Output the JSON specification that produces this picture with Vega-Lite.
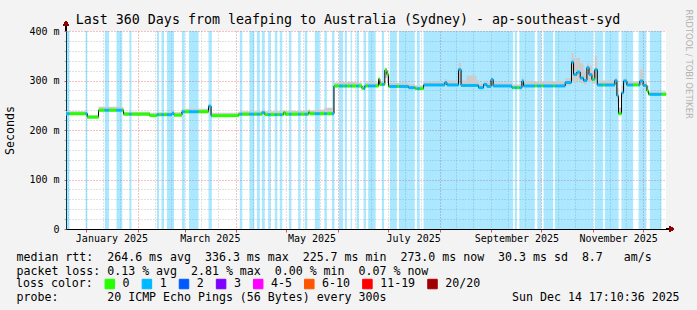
{
  "$schema": "https://vega.github.io/schema/vega-lite/v6.json",
  "width": 600,
  "height": 198,
  "autosize": {"type": "none"},
  "padding": {"left": 66, "top": 31, "right": 31, "bottom": 81},
  "background": "#f3f3f3",
  "config": {"view": {"fill": "#ffffff", "stroke": null}, "font": "DejaVu Sans Mono"},
  "resolve": {"axis": {"x": "independent", "y": "independent"}},
  "data": {"values": [
    {"t":"2024-12-19T17:10:36","m":233,"lo":230,"hi":238,"l":"1"},
    {"t":"2024-12-21T18:00","m":233,"lo":230,"hi":238,"l":"0"},
    {"t":"2024-12-31T12:00","m":233,"lo":230,"hi":238,"l":"1"},
    {"t":"2025-01-01T12:00","m":226,"lo":223,"hi":230,"l":"0"},
    {"t":"2025-01-08T06:00","m":240,"lo":237,"hi":247,"l":"0"},
    {"t":"2025-01-12T00:00","m":240,"lo":237,"hi":247,"l":"1"},
    {"t":"2025-01-14T12:00","m":240,"lo":237,"hi":247,"l":"0"},
    {"t":"2025-01-19T00:00","m":240,"lo":237,"hi":247,"l":"1"},
    {"t":"2025-01-22T12:00","m":240,"lo":237,"hi":246,"l":"0"},
    {"t":"2025-01-23T06:00","m":232,"lo":229,"hi":237,"l":"0"},
    {"t":"2025-01-26T18:00","m":232,"lo":229,"hi":237,"l":"1"},
    {"t":"2025-01-28T00:00","m":232,"lo":229,"hi":237,"l":"0"},
    {"t":"2025-02-08T00:00","m":229,"lo":227,"hi":235,"l":"0"},
    {"t":"2025-02-12T06:00","m":231,"lo":228,"hi":236,"l":"1"},
    {"t":"2025-02-13T12:00","m":231,"lo":228,"hi":236,"l":"0"},
    {"t":"2025-02-15T00:00","m":231,"lo":228,"hi":236,"l":"1"},
    {"t":"2025-02-16T12:00","m":231,"lo":228,"hi":236,"l":"0"},
    {"t":"2025-02-18T06:00","m":231,"lo":228,"hi":237,"l":"1"},
    {"t":"2025-02-21T06:00","m":234,"lo":230,"hi":240,"l":"1"},
    {"t":"2025-02-22T12:00","m":230,"lo":228,"hi":236,"l":"0"},
    {"t":"2025-02-27T06:00","m":237,"lo":234,"hi":243,"l":"1"},
    {"t":"2025-03-01T00:00","m":237,"lo":234,"hi":243,"l":"0"},
    {"t":"2025-03-03T12:00","m":237,"lo":234,"hi":243,"l":"1"},
    {"t":"2025-03-09T06:00","m":237,"lo":234,"hi":243,"l":"0"},
    {"t":"2025-03-15T06:00","m":248,"lo":240,"hi":253,"l":"1"},
    {"t":"2025-03-16T18:00","m":229,"lo":227,"hi":235,"l":"1"},
    {"t":"2025-03-17T06:00","m":229,"lo":227,"hi":235,"l":"0"},
    {"t":"2025-04-02T06:00","m":232,"lo":229,"hi":237,"l":"0"},
    {"t":"2025-04-03T00:00","m":232,"lo":229,"hi":238,"l":"1"},
    {"t":"2025-04-04T12:00","m":232,"lo":229,"hi":238,"l":"0"},
    {"t":"2025-04-08T18:00","m":232,"lo":229,"hi":238,"l":"1"},
    {"t":"2025-04-11T18:00","m":232,"lo":229,"hi":238,"l":"0"},
    {"t":"2025-04-13T06:00","m":232,"lo":229,"hi":238,"l":"1"},
    {"t":"2025-04-15T00:00","m":232,"lo":229,"hi":238,"l":"0"},
    {"t":"2025-04-16T06:00","m":235,"lo":231,"hi":241,"l":"1"},
    {"t":"2025-04-18T00:00","m":231,"lo":229,"hi":238,"l":"0"},
    {"t":"2025-04-20T00:00","m":231,"lo":229,"hi":238,"l":"1"},
    {"t":"2025-04-21T12:00","m":231,"lo":229,"hi":238,"l":"0"},
    {"t":"2025-04-24T00:00","m":231,"lo":229,"hi":238,"l":"1"},
    {"t":"2025-04-25T12:00","m":231,"lo":229,"hi":238,"l":"0"},
    {"t":"2025-04-27T00:00","m":231,"lo":229,"hi":238,"l":"1"},
    {"t":"2025-04-28T12:00","m":231,"lo":229,"hi":238,"l":"0"},
    {"t":"2025-04-29T06:00","m":235,"lo":231,"hi":240,"l":"0"},
    {"t":"2025-04-30T06:00","m":232,"lo":229,"hi":239,"l":"0"},
    {"t":"2025-05-02T12:00","m":232,"lo":229,"hi":239,"l":"1"},
    {"t":"2025-05-04T00:00","m":232,"lo":229,"hi":239,"l":"0"},
    {"t":"2025-05-08T00:00","m":232,"lo":229,"hi":239,"l":"1"},
    {"t":"2025-05-09T12:00","m":232,"lo":229,"hi":239,"l":"0"},
    {"t":"2025-05-12T00:00","m":232,"lo":229,"hi":239,"l":"1"},
    {"t":"2025-05-13T12:00","m":232,"lo":229,"hi":240,"l":"0"},
    {"t":"2025-05-14T06:00","m":236,"lo":232,"hi":242,"l":"0"},
    {"t":"2025-05-15T00:00","m":233,"lo":230,"hi":240,"l":"0"},
    {"t":"2025-05-18T00:00","m":233,"lo":230,"hi":241,"l":"1"},
    {"t":"2025-05-21T00:00","m":233,"lo":230,"hi":241,"l":"0"},
    {"t":"2025-05-23T18:00","m":233,"lo":230,"hi":244,"l":"1"},
    {"t":"2025-05-25T06:00","m":233,"lo":230,"hi":245,"l":"0"},
    {"t":"2025-05-28T06:00","m":233,"lo":230,"hi":245,"l":"1"},
    {"t":"2025-05-29T12:00","m":289,"lo":286,"hi":296,"l":"1"},
    {"t":"2025-05-29T18:00","m":289,"lo":286,"hi":296,"l":"0"},
    {"t":"2025-06-01T12:00","m":289,"lo":286,"hi":297,"l":"1"},
    {"t":"2025-06-04T00:00","m":289,"lo":286,"hi":297,"l":"0"},
    {"t":"2025-06-05T00:00","m":289,"lo":286,"hi":297,"l":"1"},
    {"t":"2025-06-06T06:00","m":289,"lo":286,"hi":297,"l":"0"},
    {"t":"2025-06-08T12:00","m":289,"lo":286,"hi":297,"l":"1"},
    {"t":"2025-06-09T06:00","m":289,"lo":286,"hi":297,"l":"0"},
    {"t":"2025-06-12T00:00","m":289,"lo":286,"hi":296,"l":"1"},
    {"t":"2025-06-13T12:00","m":289,"lo":286,"hi":296,"l":"0"},
    {"t":"2025-06-15T06:00","m":284,"lo":282,"hi":290,"l":"0"},
    {"t":"2025-06-16T06:00","m":284,"lo":282,"hi":290,"l":"1"},
    {"t":"2025-06-17T00:00","m":289,"lo":287,"hi":296,"l":"1"},
    {"t":"2025-06-17T18:00","m":289,"lo":287,"hi":296,"l":"0"},
    {"t":"2025-06-19T00:00","m":289,"lo":287,"hi":296,"l":"1"},
    {"t":"2025-06-23T12:00","m":289,"lo":287,"hi":296,"l":"0"},
    {"t":"2025-06-25T06:00","m":303,"lo":290,"hi":306,"l":"0"},
    {"t":"2025-06-26T00:00","m":292,"lo":289,"hi":298,"l":"0"},
    {"t":"2025-06-27T06:00","m":292,"lo":289,"hi":298,"l":"1"},
    {"t":"2025-06-28T12:00","m":292,"lo":289,"hi":298,"l":"0"},
    {"t":"2025-06-29T00:00","m":321,"lo":305,"hi":326,"l":"0"},
    {"t":"2025-06-30T06:00","m":312,"lo":295,"hi":318,"l":"0"},
    {"t":"2025-07-01T06:00","m":288,"lo":286,"hi":294,"l":"0"},
    {"t":"2025-07-02T00:00","m":288,"lo":286,"hi":295,"l":"1"},
    {"t":"2025-07-06T06:00","m":288,"lo":286,"hi":295,"l":"0"},
    {"t":"2025-07-07T12:00","m":288,"lo":286,"hi":296,"l":"1"},
    {"t":"2025-07-13T06:00","m":285.5,"lo":284,"hi":293,"l":"1"},
    {"t":"2025-07-17T00:00","m":285.5,"lo":284,"hi":292,"l":"0"},
    {"t":"2025-07-17T06:00","m":283.5,"lo":282,"hi":290,"l":"0"},
    {"t":"2025-07-18T06:00","m":283.5,"lo":282,"hi":290,"l":"1"},
    {"t":"2025-07-20T00:00","m":283.5,"lo":282,"hi":290,"l":"0"},
    {"t":"2025-07-22T06:00","m":291,"lo":289,"hi":298,"l":"1"},
    {"t":"2025-08-04T00:00","m":296,"lo":290,"hi":303,"l":"1"},
    {"t":"2025-08-05T06:00","m":291,"lo":289,"hi":300,"l":"1"},
    {"t":"2025-08-12T06:00","m":322,"lo":300,"hi":336,"l":"1"},
    {"t":"2025-08-13T18:00","m":290,"lo":288,"hi":300,"l":"1"},
    {"t":"2025-08-17T00:00","m":290,"lo":288,"hi":310,"l":"1"},
    {"t":"2025-08-23T00:00","m":290,"lo":288,"hi":300,"l":"1"},
    {"t":"2025-08-24T06:00","m":285.5,"lo":284,"hi":294,"l":"1"},
    {"t":"2025-08-27T06:00","m":292,"lo":289,"hi":300,"l":"1"},
    {"t":"2025-08-29T06:00","m":288,"lo":286,"hi":296,"l":"1"},
    {"t":"2025-08-31T18:00","m":302,"lo":290,"hi":306,"l":"1"},
    {"t":"2025-09-02T00:00","m":289,"lo":287,"hi":296,"l":"1"},
    {"t":"2025-09-13T06:00","m":285.5,"lo":284,"hi":292,"l":"1"},
    {"t":"2025-09-14T00:00","m":285.5,"lo":284,"hi":292,"l":"0"},
    {"t":"2025-09-15T00:00","m":285.5,"lo":284,"hi":292,"l":"1"},
    {"t":"2025-09-16T06:00","m":285.5,"lo":284,"hi":292,"l":"0"},
    {"t":"2025-09-17T18:00","m":285.5,"lo":284,"hi":292,"l":"1"},
    {"t":"2025-09-19T06:00","m":299,"lo":290,"hi":306,"l":"1"},
    {"t":"2025-09-20T06:00","m":289,"lo":287,"hi":298,"l":"1"},
    {"t":"2025-09-27T00:00","m":289,"lo":287,"hi":298,"l":"0"},
    {"t":"2025-09-28T12:00","m":289,"lo":287,"hi":298,"l":"1"},
    {"t":"2025-10-01T00:00","m":289,"lo":287,"hi":298,"l":"0"},
    {"t":"2025-10-02T06:00","m":289,"lo":287,"hi":298,"l":"1"},
    {"t":"2025-10-08T00:00","m":289,"lo":287,"hi":298,"l":"0"},
    {"t":"2025-10-09T00:00","m":289,"lo":287,"hi":299,"l":"1"},
    {"t":"2025-10-15T06:00","m":296,"lo":290,"hi":305,"l":"1"},
    {"t":"2025-10-19T00:00","m":337,"lo":300,"hi":356,"l":"1"},
    {"t":"2025-10-20T06:00","m":312,"lo":295,"hi":345,"l":"1"},
    {"t":"2025-10-22T06:00","m":317,"lo":300,"hi":346,"l":"1"},
    {"t":"2025-10-24T06:00","m":305,"lo":295,"hi":335,"l":"1"},
    {"t":"2025-10-26T06:00","m":300,"lo":292,"hi":320,"l":"1"},
    {"t":"2025-10-28T06:00","m":326,"lo":300,"hi":335,"l":"1"},
    {"t":"2025-10-29T12:00","m":312,"lo":298,"hi":330,"l":"1"},
    {"t":"2025-10-31T06:00","m":302,"lo":293,"hi":320,"l":"1"},
    {"t":"2025-11-01T00:00","m":302,"lo":293,"hi":320,"l":"0"},
    {"t":"2025-11-02T00:00","m":322,"lo":305,"hi":350,"l":"1"},
    {"t":"2025-11-03T12:00","m":291,"lo":288,"hi":300,"l":"1"},
    {"t":"2025-11-07T00:00","m":291,"lo":288,"hi":300,"l":"0"},
    {"t":"2025-11-08T00:00","m":291,"lo":288,"hi":300,"l":"1"},
    {"t":"2025-11-14T00:00","m":300,"lo":290,"hi":306,"l":"1"},
    {"t":"2025-11-15T06:00","m":269,"lo":255,"hi":285,"l":"1"},
    {"t":"2025-11-16T06:00","m":233,"lo":230,"hi":245,"l":"0"},
    {"t":"2025-11-18T00:00","m":275,"lo":265,"hi":290,"l":"1"},
    {"t":"2025-11-19T06:00","m":299,"lo":292,"hi":304,"l":"1"},
    {"t":"2025-11-21T06:00","m":291,"lo":289,"hi":298,"l":"1"},
    {"t":"2025-11-25T00:00","m":291,"lo":289,"hi":298,"l":"0"},
    {"t":"2025-11-28T06:00","m":291,"lo":289,"hi":298,"l":"1"},
    {"t":"2025-11-29T00:00","m":299,"lo":290,"hi":322,"l":"1"},
    {"t":"2025-12-01T00:00","m":290,"lo":288,"hi":298,"l":"1"},
    {"t":"2025-12-03T00:00","m":290,"lo":288,"hi":298,"l":"0"},
    {"t":"2025-12-03T06:00","m":279,"lo":275,"hi":290,"l":"0"},
    {"t":"2025-12-04T06:00","m":272,"lo":270,"hi":278,"l":"0"},
    {"t":"2025-12-05T00:00","m":272,"lo":270,"hi":278,"l":"1"},
    {"t":"2025-12-12T00:00","m":272,"lo":270,"hi":278,"l":"0"},
    {"t":"2025-12-14T17:10:36","m":273,"lo":270,"hi":277,"l":"0"}
  ]},
  "transform": [
    {"window": [{"op": "lead", "field": "t", "as": "t2"}], "sort": [{"field": "t", "order": "ascending"}]}
  ],
  "layer": [
    {
      "transform": [{"filter": "datum.l == '1' && datum.t2 != null"}],
      "mark": {"type": "rect", "color": "#00b8ff", "opacity": 0.33},
      "encoding": {
        "x": {"field": "t", "type": "temporal",
          "scale": {"domain": [{"year": 2024, "month": 12, "date": 19, "hours": 17, "minutes": 10, "seconds": 36}, {"year": 2025, "month": 12, "date": 14, "hours": 17, "minutes": 10, "seconds": 36}]},
          "axis": {"orient": "top", "labels": false, "ticks": false, "domain": false, "grid": false,
            "title": "Last 360 Days from leafping to Australia (Sydney) - ap-southeast-syd",
            "titleX": 281.5, "titleY": -8, "titleAlign": "center", "titleAnchor": "middle", "titleBaseline": "alphabetic",
            "titleFont": "DejaVu Sans Mono", "titleFontSize": 13.3, "titleFontWeight": "normal", "titleColor": "#000000"}},
        "x2": {"field": "t2"},
        "y": {"datum": 0, "type": "quantitative", "scale": {"domain": [0, 400], "nice": false},
          "axis": {"orient": "right", "labels": false, "ticks": false, "domain": false, "grid": false,
            "title": "RRDTOOL / TOBI OETIKER", "titleX": 22, "titleY": -22, "titleAngle": 90, "titleAlign": "left", "titleBaseline": "middle",
            "titleFont": "DejaVu Sans", "titleFontSize": 8.5, "titleFontWeight": "normal", "titleColor": "#b4b4b4"}},
        "y2": {"datum": 400}
      }
    },
    {
      "mark": {"type": "area", "interpolate": "step-after", "color": "#cccccc", "opacity": 1},
      "encoding": {
        "x": {"field": "t", "type": "temporal", "axis": null},
        "y": {"field": "lo", "type": "quantitative", "axis": null},
        "y2": {"field": "hi"}
      }
    },
    {
      "mark": {"type": "line", "interpolate": "step-after", "color": "#000000", "strokeWidth": 1},
      "encoding": {
        "x": {"field": "t", "type": "temporal",
          "axis": {
            "orient": "bottom",
            "values": [
              {"year":2024,"month":12,"date":21},
              {"year":2025,"month":1,"date":1},{"year":2025,"month":1,"date":11},{"year":2025,"month":1,"date":21},
              {"year":2025,"month":2,"date":1},{"year":2025,"month":2,"date":11},{"year":2025,"month":2,"date":21},
              {"year":2025,"month":3,"date":1},{"year":2025,"month":3,"date":11},{"year":2025,"month":3,"date":21},
              {"year":2025,"month":4,"date":1},{"year":2025,"month":4,"date":11},{"year":2025,"month":4,"date":21},
              {"year":2025,"month":5,"date":1},{"year":2025,"month":5,"date":11},{"year":2025,"month":5,"date":21},
              {"year":2025,"month":6,"date":1},{"year":2025,"month":6,"date":11},{"year":2025,"month":6,"date":21},
              {"year":2025,"month":7,"date":1},{"year":2025,"month":7,"date":11},{"year":2025,"month":7,"date":21},
              {"year":2025,"month":8,"date":1},{"year":2025,"month":8,"date":11},{"year":2025,"month":8,"date":21},
              {"year":2025,"month":9,"date":1},{"year":2025,"month":9,"date":11},{"year":2025,"month":9,"date":21},
              {"year":2025,"month":10,"date":1},{"year":2025,"month":10,"date":11},{"year":2025,"month":10,"date":21},
              {"year":2025,"month":11,"date":1},{"year":2025,"month":11,"date":11},{"year":2025,"month":11,"date":21},
              {"year":2025,"month":12,"date":1},{"year":2025,"month":12,"date":11}
            ],
            "grid": true,
            "gridColor": {"condition": {"test": "date(datum.value) == 1 && month(datum.value) % 2 == 1", "value": "#f08080"}, "value": "#c4c4c4"},
            "gridDash": [1, 2],
            "gridOpacity": 1,
            "ticks": true, "tickSize": 3,
            "tickColor": {"condition": {"test": "date(datum.value) == 1", "value": "#e05050"}, "value": "transparent"},
            "domain": true, "domainColor": "#000000",
            "labelExpr": "date(datum.value) == 1 && month(datum.value) % 2 == 0 ? timeFormat(datum.value, '%B %Y') : ''",
            "labelOffset": 25, "labelAngle": 0, "labelAlign": "center", "labelBaseline": "top", "labelPadding": 1.5,
            "labelFont": "DejaVu Sans Mono", "labelFontSize": 10, "labelColor": "#000000",
            "labelOverlap": false, "labelFlush": false, "labelBound": false,
            "title": [
              "median\u00a0rtt:\u00a0\u00a0264.6\u00a0ms\u00a0avg\u00a0\u00a0336.3\u00a0ms\u00a0max\u00a0\u00a0225.7\u00a0ms\u00a0min\u00a0\u00a0273.0\u00a0ms\u00a0now\u00a0\u00a030.3\u00a0ms\u00a0sd\u00a0\u00a08.7\u00a0\u00a0\u00a0am/s",
              "packet\u00a0loss:\u00a00.13\u00a0%\u00a0avg\u00a0\u00a02.81\u00a0%\u00a0max\u00a0\u00a00.00\u00a0%\u00a0min\u00a0\u00a00.07\u00a0%\u00a0now"
            ],
            "titleX": -50, "titleY": 31.5, "titleAlign": "left", "titleAnchor": "start", "titleBaseline": "alphabetic",
            "titleFont": "DejaVu Sans Mono", "titleFontSize": 11.6, "titleFontWeight": "normal", "titleColor": "#000000", "titleLineHeight": 13.5
          }},
        "y": {"field": "m", "type": "quantitative",
          "axis": {
            "orient": "left",
            "values": [0,20,40,60,80,100,120,140,160,180,200,220,240,260,280,300,320,340,360,380,400],
            "grid": true,
            "gridColor": {"condition": {"test": "datum.value % 100 == 0", "value": "#f08080"}, "value": "#c4c4c4"},
            "gridDash": [1, 2], "gridOpacity": 1,
            "ticks": true, "tickSize": 2,
            "tickColor": {"condition": {"test": "datum.value % 100 == 0", "value": "#e05050"}, "value": "#b0b0b0"},
            "domain": true, "domainColor": "#000000",
            "labelExpr": "datum.value % 100 == 0 ? (datum.value == 0 ? '0' : datum.value + ' m') : ''",
            "labelFont": "DejaVu Sans Mono", "labelFontSize": 10, "labelColor": "#000000", "labelPadding": 5,
            "labelOverlap": false, "labelFlush": false, "labelBound": false,
            "title": "Seconds", "titleX": -56, "titleY": 99, "titleAngle": -90, "titleAlign": "center", "titleBaseline": "middle",
            "titleFont": "DejaVu Sans Mono", "titleFontSize": 11.6, "titleFontWeight": "normal", "titleColor": "#000000"
          }}
      }
    },
    {
      "transform": [{"filter": "datum.t2 != null"}],
      "mark": {"type": "rule", "strokeWidth": 3},
      "encoding": {
        "x": {"field": "t", "type": "temporal", "axis": null},
        "x2": {"field": "t2"},
        "y": {"field": "m", "type": "quantitative", "axis": null},
        "color": {"field": "l", "type": "nominal",
          "scale": {"domain": ["0", "1", "2", "3", "4-5", "6-10", "11-19", "20/20"],
                    "range": ["#26ff00", "#00b8ff", "#0059ff", "#7e00ff", "#ff00ff", "#ff5500", "#ff0000", "#a10000"]},
          "legend": {"orient": "none", "legendX": -50, "legendY": 247, "direction": "horizontal",
            "title": "loss color:", "titleOrient": "left", "titlePadding": 11, "titleBaseline": "middle",
            "titleFont": "DejaVu Sans Mono", "titleFontSize": 11.6, "titleFontWeight": "normal", "titleColor": "#000000",
            "labelFont": "DejaVu Sans Mono", "labelFontSize": 11.6, "labelColor": "#000000", "labelOffset": 7,
            "columnPadding": 10.1, "symbolType": "square", "symbolSize": 90, "symbolStrokeColor": "#000000", "symbolStrokeWidth": 1, "symbolOpacity": 1,
            "encode": {"symbols": {"update": {"fill": {"scale": "color", "field": "value"}, "stroke": {"value": "#000000"}, "strokeWidth": {"value": 1}, "opacity": {"value": 1}}}}
          }}
      }
    },
    {
      "mark": {"type": "rule", "color": "#000000", "strokeWidth": 1},
      "encoding": {
        "x": {"datum": {"year": 2024, "month": 12, "date": 19, "hours": 17, "minutes": 10, "seconds": 36}, "type": "temporal", "axis": null},
        "y": {"datum": 400, "type": "quantitative", "axis": null},
        "y2": {"datum": 413}
      }
    },
    {
      "mark": {"type": "rule", "color": "#000000", "strokeWidth": 1},
      "encoding": {
        "x": {"datum": {"year": 2025, "month": 12, "date": 14, "hours": 17, "minutes": 10, "seconds": 36}, "type": "temporal",
          "axis": {"orient": "bottom", "labels": false, "ticks": false, "domain": false, "grid": false,
            "title": "probe:\u00a0\u00a0\u00a0\u00a0\u00a0\u00a0\u00a020\u00a0ICMP\u00a0Echo\u00a0Pings\u00a0(56\u00a0Bytes)\u00a0every\u00a0300s\u00a0\u00a0\u00a0\u00a0\u00a0\u00a0\u00a0\u00a0\u00a0\u00a0\u00a0\u00a0\u00a0\u00a0\u00a0\u00a0\u00a0\u00a0Sun\u00a0Dec\u00a014\u00a017:10:36\u00a02025",
            "titleX": -50, "titleY": 71.2, "titleAlign": "left", "titleAnchor": "start", "titleBaseline": "alphabetic",
            "titleFont": "DejaVu Sans Mono", "titleFontSize": 11.6, "titleFontWeight": "normal", "titleColor": "#000000"}},
        "x2": {"datum": {"year": 2025, "month": 12, "date": 16, "hours": 17}},
        "y": {"datum": 0, "type": "quantitative", "axis": null}
      }
    },
    {
      "mark": {"type": "point", "shape": "triangle-up", "filled": true, "color": "#8b0000", "size": 28, "opacity": 1},
      "encoding": {
        "x": {"datum": {"year": 2024, "month": 12, "date": 19, "hours": 17, "minutes": 10, "seconds": 36}, "type": "temporal", "axis": null},
        "y": {"datum": 415.5, "type": "quantitative", "axis": null}
      }
    },
    {
      "mark": {"type": "point", "shape": "triangle-right", "filled": true, "color": "#8b0000", "size": 28, "opacity": 1},
      "encoding": {
        "x": {"datum": {"year": 2025, "month": 12, "date": 18, "hours": 3}, "type": "temporal", "axis": null},
        "y": {"datum": 0, "type": "quantitative", "axis": null}
      }
    }
  ]
}
